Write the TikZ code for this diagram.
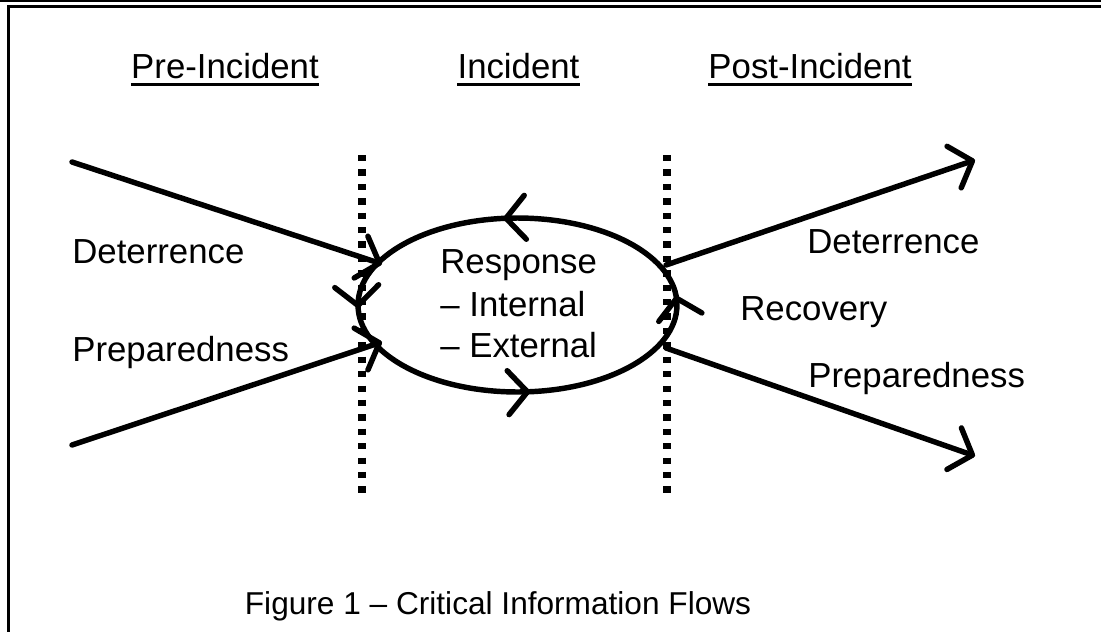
\documentclass[tikz,border=0pt]{standalone}
\usepackage{fontspec}
\setmainfont{Liberation Sans}
\usepackage{tikz}
\usetikzlibrary{arrows.meta,decorations.markings}

\tikzset{
	chev/.tip={Straight Barb[length=11pt,width=25pt,round]},
	flow/.style={line width=3.1pt, line cap=round, -chev},
	divider/.style={line width=4pt, dash pattern=on 3.6pt off 4.6pt},
	lbl/.style={anchor=base west, inner sep=0pt, font=\fontsize{19.8}{24}\selectfont},
}

\newcommand{\phasetitle}[3] % {nom}{x}{texte}
{
	\node [lbl, anchor=base] (#1) at (#2,78) {#3};
	\draw [line width=1.7pt] ([yshift=-3.7pt]#1.base west) -- ([yshift=-3.7pt]#1.base east);
}

\begin{document}
\begin{tikzpicture}[x=0.02cm, y=-0.02cm]

		\useasboundingbox (0,0) rectangle (1101,632);
		\fill [white] (0,0) rectangle (1101,632);

		% cadre
		\draw [line width=1.4pt] (0,1.2) -- (1101,1.2);
		\draw [line width=1.4pt] (7,6.3) -- (1101,6.3);
		\draw [line width=1.6pt] (8.3,5) -- (8.3,632);

		\phasetitle{pre}{225}{Pre-Incident}
		\phasetitle{inc}{518.5}{Incident}
		\phasetitle{post}{810}{Post-Incident}

		% cycle de reponse
		\draw [line width=3.1pt, postaction={decorate}, decoration={markings,
			mark=at position 0.012 with {\arrow{chev}},
			mark=at position 0.268 with {\arrow{chev}},
			mark=at position 0.504 with {\arrow{chev}},
			mark=at position 0.766 with {\arrow{chev}}}]
			(517.5,305) ellipse [x radius=3.19cm, y radius=1.74cm];

		\draw [divider] (362,155) -- (362,497);
		\draw [divider] (667,155) -- (667,500);

		\node [lbl] (resp) at (440,273) {Response};
		\node [lbl] (intl) at (440,316) {– Internal};
		\node [lbl] (extl) at (440,357) {– External};

		\coordinate (detIn) at (72,162);
		\coordinate (detEnd) at (382,264);
		\coordinate (prepIn) at (72,445);
		\coordinate (prepEnd) at (382,342);
		\coordinate (detOut) at (666,265);
		\coordinate (detTip) at (975,160);
		\coordinate (prepOut) at (666,348);
		\coordinate (prepTip) at (975,456);

		\draw [flow] (detIn) -- (detEnd);
		\draw [flow] (prepIn) -- (prepEnd);
		\draw [flow] (detOut) -- (detTip);
		\draw [flow] (prepOut) -- (prepTip);

		\node [lbl] (detL) at (72,263) {Deterrence};
		\node [lbl] (prepL) at (72,361) {Preparedness};
		\node [lbl] (detR) at (807,253) {Deterrence};
		\node [lbl] (recov) at (740,320) {Recovery};
		\node [lbl] (prepR) at (808,387) {Preparedness};

		\node [lbl, anchor=base, font=\fontsize{18}{22}\selectfont] (caption) at (498,614) {Figure 1 – Critical Information Flows};

\end{tikzpicture}
\end{document}
